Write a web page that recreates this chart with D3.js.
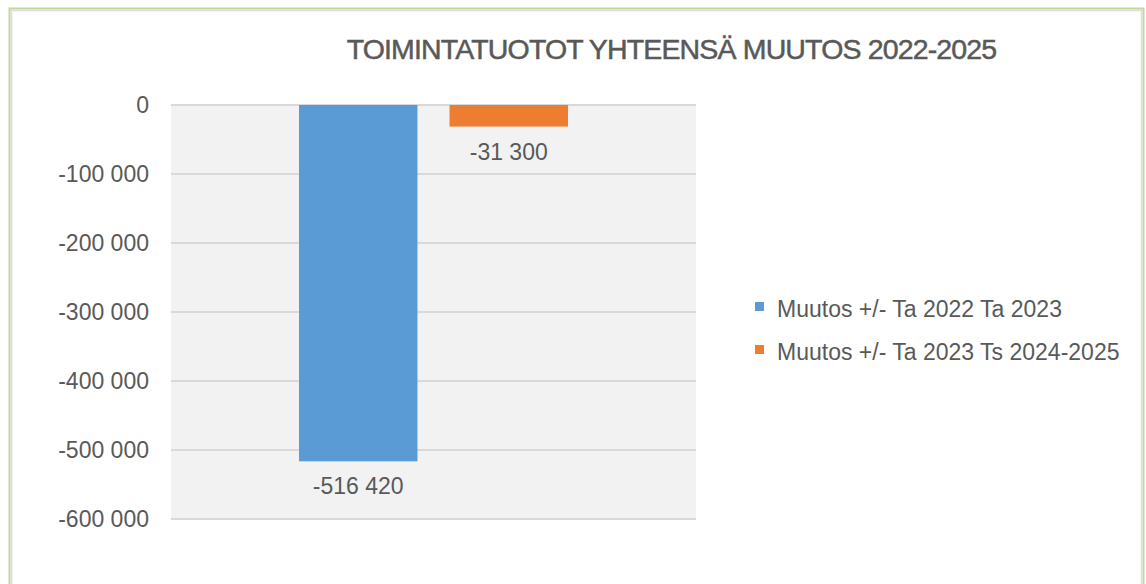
<!DOCTYPE html>
<html>
<head>
<meta charset="utf-8">
<script src="https://cdn.jsdelivr.net/npm/d3@7"></script>
<style>
  html, body { margin: 0; padding: 0; background: #ffffff; }
  svg { display: block; }
  text { font-family: "Liberation Sans", Arial, sans-serif; fill: #595959; }
</style>
</head>
<body>
<svg id="chart" width="1146" height="584"></svg>
<script>
const title = "TOIMINTATUOTOT YHTEENSÄ MUUTOS 2022-2025";
const categories = [""];
const seriesNames = ["Muutos +/- Ta 2022 Ta 2023", "Muutos +/- Ta 2023 Ts 2024-2025"];
const seriesColors = ["#5b9bd5", "#ed7d31"];
const seriesValues = [[-516420], [-31300]];
const tickValues = [0, -100000, -200000, -300000, -400000, -500000, -600000];

const svg = d3.select("#chart");
const plot = { left: 171, right: 696, top: 104, bottom: 518 };

// frame
svg.append("rect").attr("x", 9.5).attr("y", 8.5).attr("width", 1134).attr("height", 600)
  .attr("fill", "#ffffff").attr("stroke", "#c4d79b").attr("stroke-width", 2);
svg.append("rect").attr("x", 11.5).attr("y", 10.5).attr("width", 1130).attr("height", 600)
  .attr("fill", "none").attr("stroke", "#dcdcdc").attr("stroke-width", 1.5);

const y = d3.scaleLinear().domain([-600000, 0]).range([plot.bottom, plot.top]);
const x0 = d3.scaleBand().domain(categories).range([plot.left, plot.right])
  .paddingInner(0).paddingOuter(0.476);
const x1 = d3.scaleBand().domain(d3.range(seriesNames.length)).range([0, x0.bandwidth()])
  .paddingInner(0.213).paddingOuter(0);

// plot background
svg.append("rect").attr("x", plot.left).attr("y", plot.top)
  .attr("width", plot.right - plot.left).attr("height", plot.bottom - plot.top)
  .attr("fill", "#f2f2f2");

// gridlines
svg.append("g").selectAll("line").data(tickValues).join("line")
  .attr("x1", plot.left).attr("x2", plot.right)
  .attr("y1", d => y(d) + 1).attr("y2", d => y(d) + 1)
  .attr("stroke", "#d9d9d9").attr("stroke-width", 2);

// y axis labels
const fmt = v => {
  const s = d3.format(",")(Math.abs(v)).replace(/,/g, " ");
  return (v < 0 ? "-" : "") + s;
};
const yAxis = d3.axisLeft(y).tickValues(tickValues).tickFormat(fmt).tickSize(0).tickPadding(0);
const gy = svg.append("g").attr("transform", `translate(149,0)`).call(yAxis);
gy.select(".domain").remove();
gy.selectAll("text").attr("font-size", 23).attr("fill", "#595959")
  .style("font-family", '"Liberation Sans", Arial, sans-serif').attr("dy", "0.36em").attr("y", 0);

// bars
const barData = [];
seriesNames.forEach((name, si) => {
  categories.forEach((c, ci) => {
    barData.push({ cat: c, si, value: seriesValues[si][ci] });
  });
});
svg.append("g").selectAll("rect").data(barData).join("rect")
  .attr("x", d => x0(d.cat) + x1(d.si))
  .attr("width", x1.bandwidth())
  .attr("y", d => y(Math.max(0, d.value)) + 1)
  .attr("height", d => Math.abs(y(d.value) - y(0)))
  .attr("fill", d => seriesColors[d.si]);

// data labels
svg.append("g").selectAll("text").data(barData).join("text")
  .attr("x", d => x0(d.cat) + x1(d.si) + x1.bandwidth() / 2)
  .attr("y", d => y(d.value) + 34)
  .attr("text-anchor", "middle")
  .attr("font-size", 23)
  .text(d => fmt(d.value));

// title
svg.append("text").attr("x", 671.5).attr("y", 58.5).attr("text-anchor", "middle")
  .attr("font-size", 28.5).attr("letter-spacing", -0.85)
  .attr("fill", "#595959").attr("stroke", "#595959").attr("stroke-width", 0.5)
  .text(title);

// legend
const lg = svg.append("g").selectAll("g").data(seriesNames).join("g")
  .attr("transform", (d, i) => `translate(755, ${302 + i * 43})`);
lg.append("rect").attr("width", 9).attr("height", 9).attr("fill", (d, i) => seriesColors[i]);
lg.append("text").attr("x", 22).attr("y", 15).attr("font-size", 23).text(d => d);
</script>
</body>
</html>
